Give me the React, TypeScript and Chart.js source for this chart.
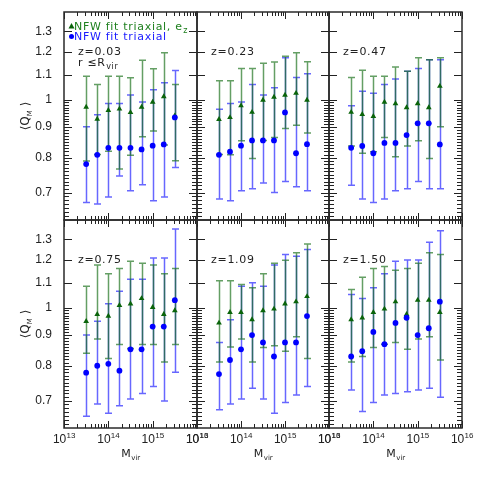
import { useEffect, useRef } from 'react';
import { Chart, registerables } from 'chart.js';

Chart.register(...registerables);

// ---------- data ----------
const MASS = [3.16e13, 5.62e13, 1.0e14, 1.78e14, 3.16e14, 5.62e14, 1.0e15, 1.78e15, 3.16e15];
const REDSHIFT_LABELS = ['z=0.03', 'z=0.23', 'z=0.47', 'z=0.75', 'z=1.09', 'z=1.50'];
const X_TICKS = [1e13, 1e14, 1e15, 1e16];
const X_TICK_EXPONENTS = ['13', '14', '15', '16'];
const Y_TICKS = [0.7, 0.8, 0.9, 1, 1.1, 1.2, 1.3];
const Y_TICK_LABELS = ['0.7', '0.8', '0.9', '1', '1.1', '1.2', '1.3'];
const X_MIN = 1e13;
const X_MAX = 1e16;
const Y_MIN = 0.63;
const Y_MAX = 1.4;
const LEGEND_EZ = 'NFW fit triaxial, e';
const LEGEND_TRI = 'NFW fit triaxial';

// z = 0.03
const EZ_Z003 = [0.972, 0.928, 0.960, 0.965, 0.952, 0.972, 0.991, 1.012, 0.940];
const EZ_Z003_HI = [1.094, 1.060, 1.094, 1.094, 1.088, 1.163, 1.126, 1.197, 1.060];
const EZ_Z003_LO = [0.790, 0.810, 0.820, 0.766, 0.808, 0.867, 0.887, 0.840, 0.791];
const TRI_Z003 = [0.781, 0.809, 0.831, 0.831, 0.831, 0.826, 0.838, 0.842, 0.934];
const TRI_Z003_HI = [0.901, 0.944, 0.985, 0.985, 1.018, 0.991, 1.039, 1.067, 1.118];
const TRI_Z003_LO = [0.674, 0.670, 0.688, 0.746, 0.705, 0.721, 0.678, 0.688, 0.771];
// z = 0.23
const EZ_Z023 = [0.927, 0.934, 0.977, 0.953, 0.998, 1.010, 1.018, 1.025, 0.998];
const EZ_Z023_HI = [1.075, 1.075, 1.127, 1.127, 1.150, 1.156, 1.181, 1.197, 1.157];
const EZ_Z023_LO = [0.810, 0.809, 0.854, 0.798, 0.855, 0.865, 0.895, 0.906, 0.880];
const TRI_Z023 = [0.809, 0.819, 0.838, 0.855, 0.855, 0.855, 0.952, 0.814, 0.843];
const TRI_Z023_HI = [0.964, 0.985, 0.991, 1.060, 1.018, 1.047, 1.174, 1.089, 1.104];
const TRI_Z023_LO = [0.683, 0.678, 0.705, 0.710, 0.726, 0.700, 0.730, 0.716, 0.705];
// z = 0.47
const EZ_Z047 = [0.953, 0.945, 0.938, 0.991, 0.985, 0.970, 0.985, 0.970, 1.053];
const EZ_Z047_HI = [1.089, 1.120, 1.094, 1.094, 1.134, 1.115, 1.174, 1.165, 1.174];
const EZ_Z047_LO = [0.837, 0.814, 0.819, 0.865, 0.803, 0.837, 0.854, 0.798, 0.901];
const TRI_Z047 = [0.831, 0.837, 0.814, 0.847, 0.847, 0.873, 0.913, 0.913, 0.842];
const TRI_Z047_HI = [0.977, 1.033, 1.025, 1.060, 1.082, 1.115, 1.127, 1.165, 1.165];
const TRI_Z047_LO = [0.720, 0.683, 0.674, 0.683, 0.705, 0.710, 0.730, 0.710, 0.710];
// z = 0.75
const EZ_Z075 = [0.949, 0.975, 0.968, 1.009, 1.015, 1.036, 1.001, 0.975, 0.989];
const EZ_Z075_HI = [1.086, 1.178, 1.139, 1.162, 1.195, 1.186, 1.178, 1.139, 1.162];
const EZ_Z075_LO = [0.839, 0.887, 0.823, 0.868, 0.855, 0.868, 0.868, 0.812, 0.868];
const TRI_Z075 = [0.779, 0.800, 0.806, 0.785, 0.852, 0.852, 0.930, 0.930, 1.029];
const TRI_Z075_HI = [0.900, 0.949, 1.015, 1.065, 1.115, 1.115, 1.210, 1.210, 1.352];
const TRI_Z075_LO = [0.659, 0.691, 0.667, 0.686, 0.704, 0.719, 0.739, 0.699, 0.780];
// z = 1.09
const EZ_Z109 = [0.943, 0.982, 0.982, 0.955, 0.989, 0.995, 1.015, 1.023, 1.044];
const EZ_Z109_HI = [1.109, 1.109, 1.093, 1.079, 1.139, 1.186, 1.200, 1.235, 1.277];
const EZ_Z109_LO = [0.812, 0.860, 0.887, 0.812, 0.858, 0.864, 0.846, 0.894, 0.823];
const TRI_Z109 = [0.775, 0.818, 0.852, 0.900, 0.875, 0.829, 0.875, 0.875, 0.968];
const TRI_Z109_HI = [0.875, 0.955, 1.086, 1.100, 1.086, 1.178, 1.226, 1.218, 1.250];
const TRI_Z109_LO = [0.676, 0.691, 0.704, 0.734, 0.704, 0.667, 0.695, 0.715, 0.739];
// z = 1.50
const EZ_Z150 = [0.955, 0.962, 0.982, 0.995, 1.023, 0.975, 1.029, 1.029, 0.982];
const EZ_Z150_HI = [1.072, 1.124, 1.162, 1.171, 1.154, 1.162, 1.186, 1.235, 1.226];
const EZ_Z150_LO = [0.812, 0.829, 0.858, 0.869, 0.875, 0.852, 0.887, 0.894, 0.818];
const TRI_Z150 = [0.829, 0.846, 0.911, 0.869, 0.943, 0.962, 0.900, 0.924, 1.023];
const TRI_Z150_HI = [1.052, 1.036, 1.079, 1.139, 1.195, 1.201, 1.201, 1.285, 1.343];
const TRI_Z150_LO = [0.729, 0.671, 0.695, 0.715, 0.719, 0.724, 0.729, 0.734, 0.709];

const PANELS = [
  { ez: EZ_Z003, ezHi: EZ_Z003_HI, ezLo: EZ_Z003_LO, tri: TRI_Z003, triHi: TRI_Z003_HI, triLo: TRI_Z003_LO },
  { ez: EZ_Z023, ezHi: EZ_Z023_HI, ezLo: EZ_Z023_LO, tri: TRI_Z023, triHi: TRI_Z023_HI, triLo: TRI_Z023_LO },
  { ez: EZ_Z047, ezHi: EZ_Z047_HI, ezLo: EZ_Z047_LO, tri: TRI_Z047, triHi: TRI_Z047_HI, triLo: TRI_Z047_LO },
  { ez: EZ_Z075, ezHi: EZ_Z075_HI, ezLo: EZ_Z075_LO, tri: TRI_Z075, triHi: TRI_Z075_HI, triLo: TRI_Z075_LO },
  { ez: EZ_Z109, ezHi: EZ_Z109_HI, ezLo: EZ_Z109_LO, tri: TRI_Z109, triHi: TRI_Z109_HI, triLo: TRI_Z109_LO },
  { ez: EZ_Z150, ezHi: EZ_Z150_HI, ezLo: EZ_Z150_LO, tri: TRI_Z150, triHi: TRI_Z150_HI, triLo: TRI_Z150_LO },
];

// minor tick positions (axis decoration)
const X_MINOR: number[] = [];
[1e13, 1e14, 1e15].forEach((d) => { for (let k = 2; k <= 9; k++) X_MINOR.push(k * d); });
const Y_MINOR: number[] = [];
for (let k = 64; k <= 99; k++) if (k % 10 !== 0) Y_MINOR.push(k / 100);

// ---------- layout / style ----------
const COL_EDGES = [64, 197, 329, 462];
const ROW_EDGES = [12, 220, 428];
const GREEN_BAR = 'rgba(20,110,20,0.66)';
const BLUE_BAR = 'rgba(25,25,255,0.66)';
const GREEN_MARK = '#0a640a';
const BLUE_MARK = '#0000ff';
const GREEN_TEXT = '#1f801f';
const BLUE_TEXT = '#1a1aff';
const TEXT = '#222';
const FONT = '"DejaVu Sans", sans-serif';
const NUM_FONT = '"Liberation Sans", Arial, sans-serif';

function drawSub(ctx: CanvasRenderingContext2D, x: number, y: number, main: string, sub: string, size: number, subSize: number, align: 'left' | 'center') {
  ctx.font = `${size}px ${FONT}`;
  const w1 = ctx.measureText(main).width;
  ctx.font = `${subSize}px ${FONT}`;
  const w2 = ctx.measureText(sub).width;
  let x0 = x;
  if (align === 'center') x0 = x - (w1 + w2) / 2;
  ctx.font = `${size}px ${FONT}`;
  ctx.fillText(main, x0, y);
  ctx.font = `${subSize}px ${FONT}`;
  ctx.fillText(sub, x0 + w1 + 0.5, y + 3);
}

function makeConfig(p: number): any {
  const r = Math.floor(p / 3);
  const c = p % 3;
  const left = COL_EDGES[c];
  const right = COL_EDGES[c + 1];
  const top = ROW_EDGES[r];
  const bottom = ROW_EDGES[r + 1];
  const yW = c === 0 ? 40 : 0;
  const d = PANELS[p];

  const errorBars = {
    id: 'errorBars' + p,
    beforeDatasetsDraw(chart: any) {
      const { ctx } = chart;
      const xs = chart.scales.x;
      const ys = chart.scales.y;
      const groups = [
        { lo: d.triLo, hi: d.triHi, color: BLUE_BAR },
        { lo: d.ezLo, hi: d.ezHi, color: GREEN_BAR },
      ];
      ctx.save();
      groups.forEach((g) => {
        ctx.strokeStyle = g.color;
        ctx.lineWidth = 1.5;
        MASS.forEach((m, i) => {
          const px = Math.round(xs.getPixelForValue(m)) + 0.5;
          const pLo = ys.getPixelForValue(g.lo[i]);
          const pHi = ys.getPixelForValue(g.hi[i]);
          ctx.beginPath();
          ctx.moveTo(px, pLo);
          ctx.lineTo(px, pHi);
          ctx.moveTo(px - 3.5, pLo);
          ctx.lineTo(px + 3.5, pLo);
          ctx.moveTo(px - 3.5, pHi);
          ctx.lineTo(px + 3.5, pHi);
          ctx.stroke();
        });
      });
      ctx.restore();
    },
  };

  const decor = {
    id: 'decor' + p,
    afterDraw(chart: any) {
      const { ctx, chartArea } = chart;
      const xs = chart.scales.x;
      const ys = chart.scales.y;
      const L = chartArea.left, R = chartArea.right, T = chartArea.top, B = chartArea.bottom;
      ctx.save();
      // ticks
      ctx.strokeStyle = '#222';
      ctx.lineWidth = 1;
      ctx.beginPath();
      const xt = (v: number, len: number) => {
        const px = Math.round(xs.getPixelForValue(v)) + 0.5;
        ctx.moveTo(px, B); ctx.lineTo(px, B - len);
        ctx.moveTo(px, T); ctx.lineTo(px, T + len);
      };
      const yt = (v: number, len: number) => {
        const py = Math.round(ys.getPixelForValue(v)) + 0.5;
        ctx.moveTo(L, py); ctx.lineTo(L + len, py);
        ctx.moveTo(R, py); ctx.lineTo(R - len, py);
      };
      X_TICKS.forEach((v) => xt(v, 7));
      X_MINOR.forEach((v) => xt(v, 4));
      Y_TICKS.forEach((v) => yt(v, 8));
      Y_MINOR.forEach((v) => yt(v, 5));
      ctx.stroke();
      // frame
      ctx.strokeStyle = '#2a2a2a';
      ctx.lineWidth = 1.5;
      ctx.strokeRect(L, T, R - L, B - T);

      ctx.fillStyle = TEXT;
      ctx.textBaseline = 'alphabetic';
      ctx.textAlign = 'left';
      (ctx as any).letterSpacing = '0.7px';
      ctx.font = `11px ${FONT}`;
      ctx.fillText(REDSHIFT_LABELS[p], L + 14, T + 43);

      if (p === 0) {
        // legend
        ctx.fillStyle = GREEN_MARK;
        ctx.beginPath();
        ctx.moveTo(71.5, 23);
        ctx.lineTo(74.5, 28.5);
        ctx.lineTo(68.5, 28.5);
        ctx.closePath();
        ctx.fill();
        ctx.fillStyle = GREEN_TEXT;
        drawSub(ctx, 74, 30, LEGEND_EZ, 'z', 11, 8, 'left');
        ctx.fillStyle = BLUE_MARK;
        ctx.beginPath();
        ctx.arc(71.5, 36.5, 2.5, 0, Math.PI * 2);
        ctx.fill();
        ctx.fillStyle = BLUE_TEXT;
        ctx.font = `11px ${FONT}`;
        ctx.fillText(LEGEND_TRI, 74, 39.5);
        ctx.fillStyle = TEXT;
        drawSub(ctx, 78, 66, 'r ≤R', 'vir', 11, 8, 'left');
      }
      (ctx as any).letterSpacing = '0px';

      if (r === 1) {
        // x tick labels with superscript exponents
        ctx.fillStyle = TEXT;
        X_TICKS.forEach((v, i) => {
          const px = xs.getPixelForValue(v);
          ctx.font = `12px ${NUM_FONT}`;
          const w1 = ctx.measureText('10').width;
          ctx.font = `8px ${NUM_FONT}`;
          const w2 = ctx.measureText(X_TICK_EXPONENTS[i]).width;
          const x0 = px - (w1 + w2) / 2;
          ctx.font = `12px ${NUM_FONT}`;
          ctx.fillText('10', x0, 443);
          ctx.font = `8px ${NUM_FONT}`;
          ctx.fillText(X_TICK_EXPONENTS[i], x0 + w1 + 0.3, 438);
        });
        // x title
        drawSub(ctx, (L + R) / 2, 457, 'M', 'vir', 11, 7, 'center');
      }

      if (c === 0) {
        // y title, rotated
        const cy = (T + B) / 2;
        ctx.translate(28.5, cy);
        ctx.rotate(-Math.PI / 2);
        const parts: [string, number, number][] = [['⟨', 12, 0], ['Q', 12, 0], ['M', 7, 3], [' ⟩', 12, 0]];
        let total = 0;
        parts.forEach(([t, s]) => { ctx.font = `${s}px ${FONT}`; total += ctx.measureText(t).width; });
        let x = -total / 2;
        parts.forEach(([t, s, dy]) => {
          ctx.font = `${s}px ${FONT}`;
          ctx.fillText(t, x, dy);
          x += ctx.measureText(t).width;
        });
      }
      ctx.restore();
    },
  };

  return {
    type: 'scatter',
    data: {
      datasets: [
        {
          label: LEGEND_TRI,
          data: MASS.map((m, i) => ({ x: m, y: d.tri[i] })),
          pointStyle: 'circle',
          pointRadius: 2.9,
          backgroundColor: BLUE_MARK,
          borderColor: BLUE_MARK,
          borderWidth: 0,
        },
        {
          label: LEGEND_EZ,
          data: MASS.map((m, i) => ({ x: m, y: d.ez[i] })),
          pointStyle: 'triangle',
          pointRadius: 3.3,
          backgroundColor: GREEN_MARK,
          borderColor: GREEN_MARK,
          borderWidth: 0,
        },
      ],
    },
    options: {
      responsive: false,
      animation: false,
      events: [],
      layout: { padding: { left: left - yW, right: 480 - right, top, bottom: 480 - bottom } },
      plugins: { legend: { display: false }, tooltip: { enabled: false }, title: { display: false } },
      scales: {
        x: {
          type: 'logarithmic',
          min: X_MIN,
          max: X_MAX,
          grid: { display: false, drawTicks: false },
          border: { display: false },
          ticks: { display: false },
          afterBuildTicks: (s: any) => { s.ticks = X_TICKS.map((v) => ({ value: v })); },
          afterFit: (s: any) => { s.height = 0; s.paddingLeft = 0; s.paddingRight = 0; },
        },
        y: {
          type: 'logarithmic',
          min: Y_MIN,
          max: Y_MAX,
          grid: { display: false, drawTicks: false },
          border: { display: false },
          ticks: {
            display: c === 0,
            autoSkip: false,
            padding: 12,
            color: TEXT,
            font: { family: NUM_FONT, size: 12 },
            callback: (v: number) => {
              const i = Y_TICKS.findIndex((t) => Math.abs(t - v) < 1e-9);
              return i >= 0 ? Y_TICK_LABELS[i] : '';
            },
          },
          afterBuildTicks: (s: any) => { s.ticks = Y_TICKS.map((v) => ({ value: v })); },
          afterFit: (s: any) => { s.width = yW; s.paddingTop = 0; s.paddingBottom = 0; },
        },
      },
    },
    plugins: [errorBars, decor],
  };
}

function Panel({ index }: { index: number }) {
  const ref = useRef<HTMLCanvasElement>(null);
  useEffect(() => {
    const chart = new Chart(ref.current as HTMLCanvasElement, makeConfig(index));
    return () => chart.destroy();
  }, [index]);
  return <canvas ref={ref} width={480} height={480} style={{ position: 'absolute', left: 0, top: 0 }} />;
}

export default function App() {
  return (
    <div style={{ position: 'absolute', left: 0, top: 0, width: 480, height: 480, background: '#fff' }}>
      {[0, 1, 2, 3, 4, 5].map((i) => (
        <Panel key={i} index={i} />
      ))}
    </div>
  );
}
